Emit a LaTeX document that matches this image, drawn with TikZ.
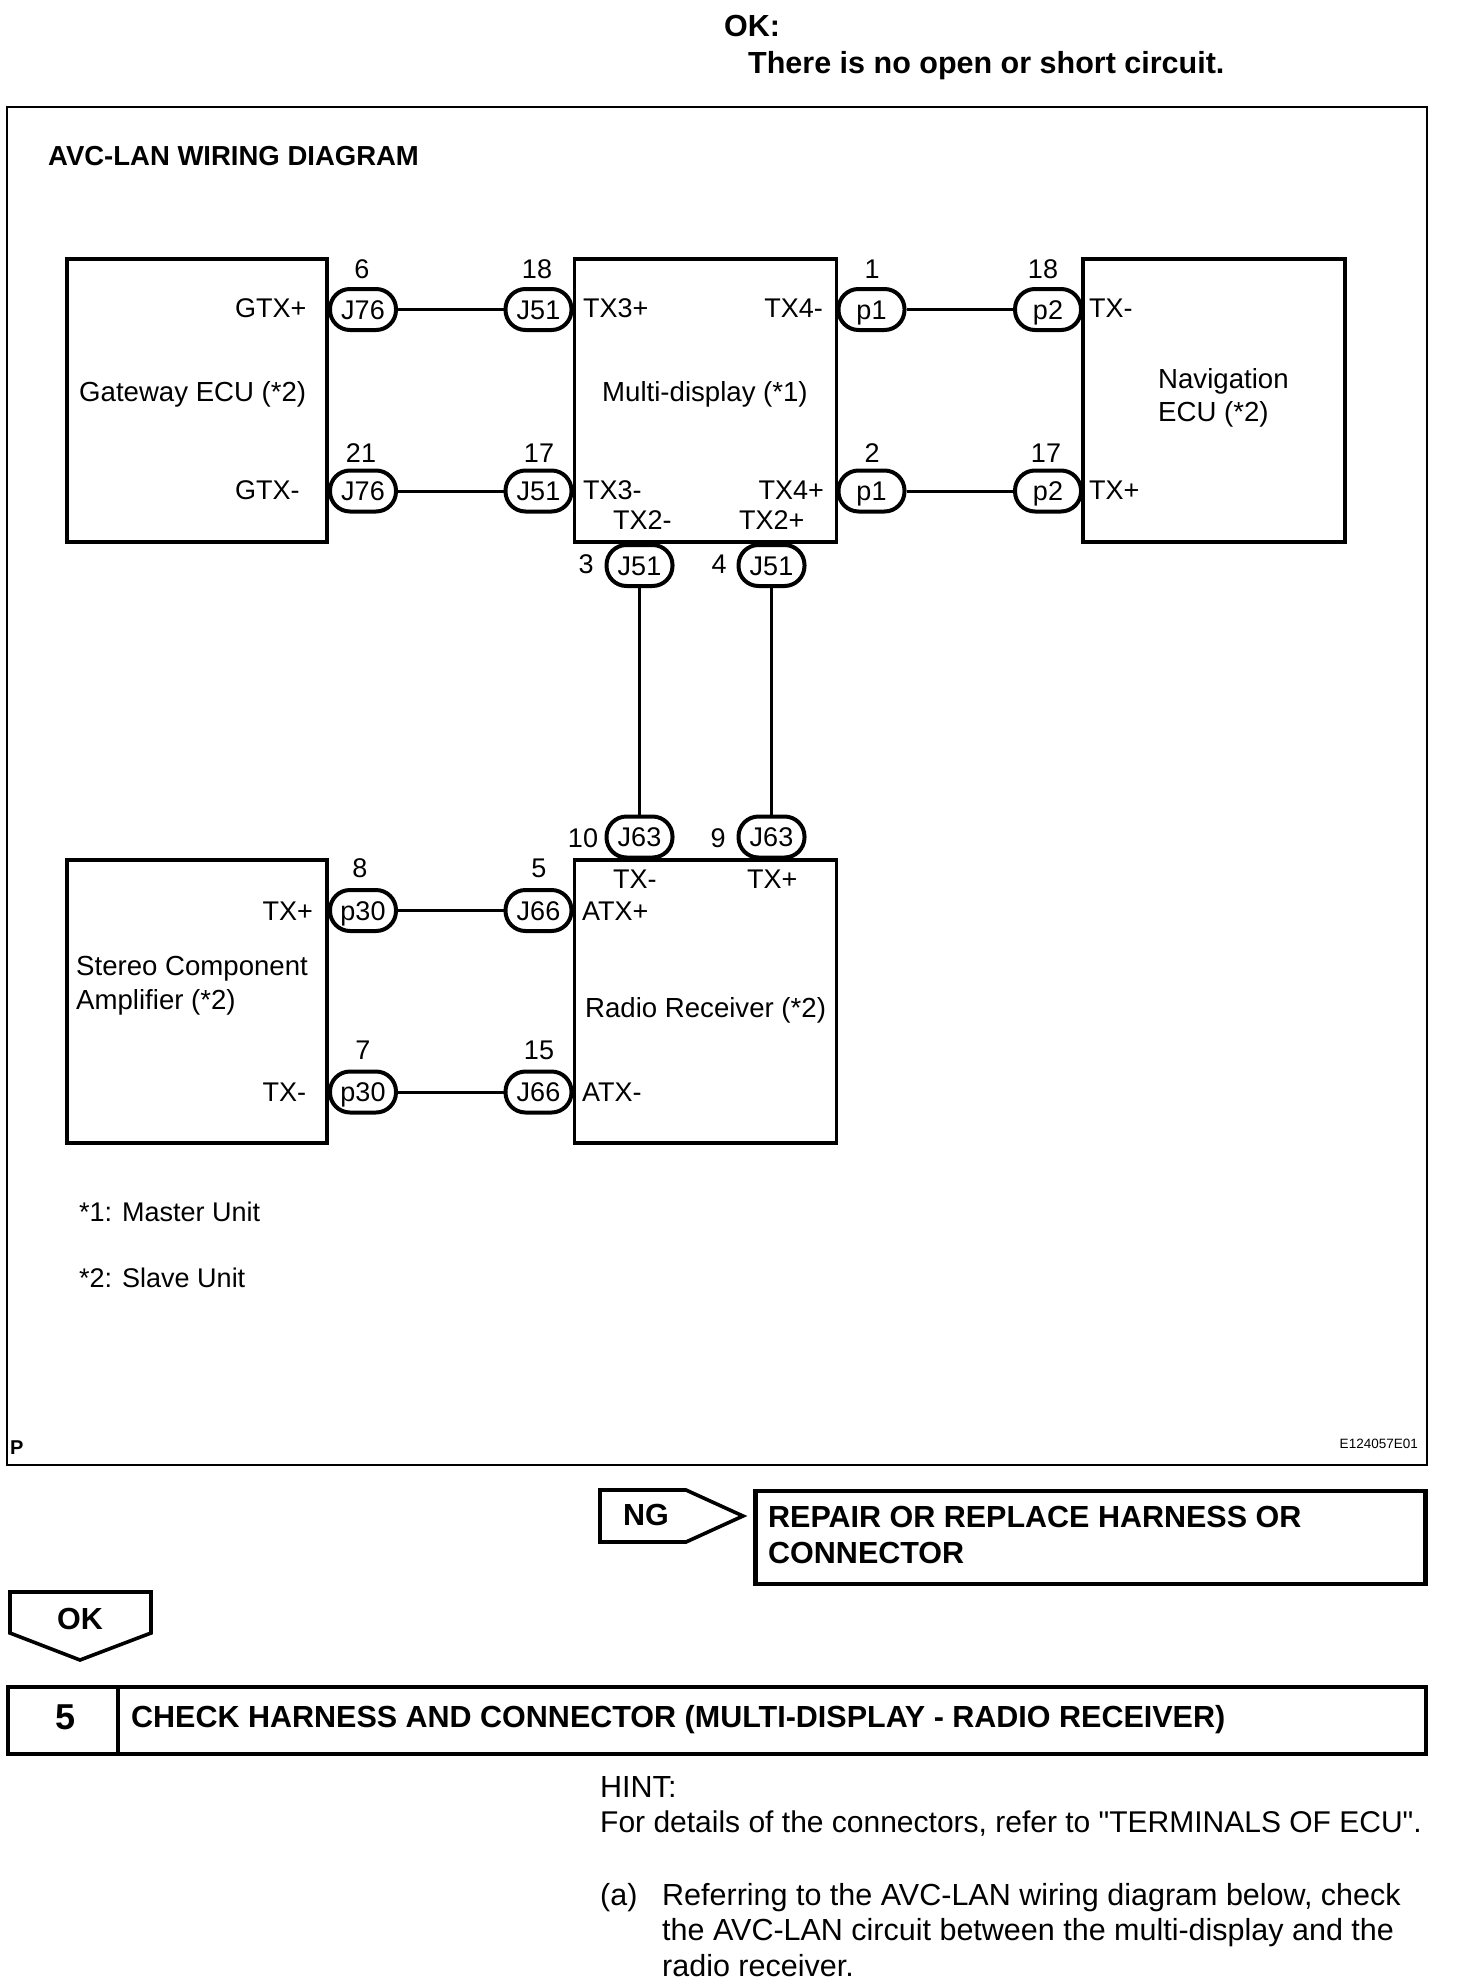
\documentclass[tikz,border=0pt]{standalone}
\usepackage{fontspec}
\setmainfont{Liberation Sans}
\newfontfamily\quotefont{Liberation Sans}
\usetikzlibrary{calc,positioning}
\tikzset{
unitbox/.style={draw,line width=3.6pt,rectangle,inner sep=0pt,minimum width=262pt,minimum height=283pt},
pin/.style={draw,fill=white,line width=4pt,rectangle,rounded corners=20pt,minimum width=66pt,minimum height=41pt,inner sep=0pt,text height=19.5pt,text depth=0pt,font=\fontsize{27}{31}\selectfont},
lbl/.style={anchor=base west,inner sep=0pt,font=\fontsize{27}{31}\selectfont},
lblr/.style={anchor=base east,inner sep=0pt,font=\fontsize{27}{31}\selectfont},
unitname/.style={anchor=base west,inner sep=0pt,font=\fontsize{27.6}{31}\selectfont},
num/.style={anchor=base,inner sep=0pt,font=\fontsize{27}{31}\selectfont},
body/.style={anchor=base west,inner sep=0pt,font=\fontsize{30.5}{35}\selectfont},
head/.style={anchor=base west,inner sep=0pt,font=\fontsize{30.5}{35}\selectfont\bfseries},
wire/.style={line width=3pt},
flow/.style={line width=3.6pt,line join=miter},
}
\begin{document}
\begin{tikzpicture}[x=1pt,y=-1pt]
\useasboundingbox(0,0)rectangle(1456,1988);
\node[head](okhead)at(724,37){OK:};
\node[head](okline)at(748,73.5){There is no open or short circuit.};
\draw[line width=2pt](7,107)rectangle(1427,1465);
\node[lbl,font=\fontsize{27.5}{31}\selectfont\bfseries](title)at(48,166){AVC-LAN WIRING DIAGRAM};
% units
\node[unitbox,minimum width=260pt](gateway)at(196.7,400.5){};
\node[unitbox](multi)at(705.5,400.5){};
\node[unitbox](navi)at(1214,400.5){};
\node[unitbox,minimum width=260pt](amp)at(196.7,1001.5){};
\node[unitbox](radio)at(705.5,1001.5){};
\node[unitname](gwname)at(79,401.7){Gateway ECU (*2)};
\node[unitname](muname)at(602,401.7){Multi-display (*1)};
\node[unitname](naname)at(1158,388){Navigation};
\node[unitname](naname2)at(1158,421){ECU (*2)};
\node[unitname](ampname)at(76,975){Stereo Component};
\node[unitname](ampname2)at(76,1009){Amplifier (*2)};
\node[unitname](raname)at(585,1017){Radio Receiver (*2)};
% pins
\node[pin](gtxp)at(363,309.5){J76};
\node[pin](txthreep)at(538.5,309.5){J51};
\node[pin](txfourm)at(871.5,309.5){p1};
\node[pin](txm)at(1048,309.5){p2};
\node[pin](gtxm)at(363,491){J76};
\node[pin](txthreem)at(538.5,491){J51};
\node[pin](txfourp)at(871.5,491){p1};
\node[pin](txp)at(1048,491){p2};
\node[pin](txtwom)at(639.5,565.5){J51};
\node[pin](txtwop)at(771.5,565.5){J51};
\node[pin](rxm)at(639.5,837){J63};
\node[pin](rxp)at(771.5,837){J63};
\node[pin](ampp)at(363,910.5){p30};
\node[pin](atxp)at(538.5,910.5){J66};
\node[pin](ampm)at(363,1092){p30};
\node[pin](atxm)at(538.5,1092){J66};
\draw[wire](gtxp)--(txthreep);
\draw[wire](gtxm)--(txthreem);
\draw[wire](txfourm)--(txm);
\draw[wire](txfourp)--(txp);
\draw[wire](txtwom)--(rxm);
\draw[wire](txtwop)--(rxp);
\draw[wire](ampp)--(atxp);
\draw[wire](ampm)--(atxm);
% terminal numbers
\node[num](n6)at(362,278){6};
\node[num](n18)at(537,278){18};
\node[num](n1)at(872,278){1};
\node[num](n18b)at(1043,278){18};
\node[num](n21)at(361,462){21};
\node[num](n17)at(539,462){17};
\node[num](n2)at(872,462){2};
\node[num](n17b)at(1046,462){17};
\node[num](n3)at(586,573){3};
\node[num](n4)at(719,573){4};
\node[num](n10)at(583,847){10};
\node[num](n9)at(718,847){9};
\node[num](n8)at(360,877){8};
\node[num](n5)at(539,877){5};
\node[num](n7)at(363,1059){7};
\node[num](n15)at(539,1059){15};
% terminal names
\node[lbl](l1)at(235,317){GTX+};
\node[lbl](l2)at(235,499){GTX-};
\node[lbl](l3)at(583,317){TX3+};
\node[lbl](l4)at(583,499){TX3-};
\node[lblr](l5)at(823,317){TX4-};
\node[lblr](l6)at(824,499){TX4+};
\node[lbl](l7)at(1089,317){TX-};
\node[lbl](l8)at(1089,499){TX+};
\node[lbl](l9)at(613,529){TX2-};
\node[lbl](l10)at(739,529){TX2+};
\node[lbl](l11)at(613,888){TX-};
\node[lbl](l12)at(747,888){TX+};
\node[lbl](l13)at(262.5,920){TX+};
\node[lbl](l14)at(262.5,1101){TX-};
\node[lbl](l15)at(582,920){ATX+};
\node[lbl](l16)at(582,1101){ATX-};
\node[lbl](note1)at(79,1221){*1: Master Unit};
\node[lbl](note2)at(79,1287){*2: Slave Unit};
\node[anchor=base west,inner sep=0pt,font=\fontsize{20}{24}\selectfont\bfseries](pmark)at(10,1454){P};
\node[anchor=base east,inner sep=0pt,font=\fontsize{13.5}{15}\selectfont](code)at(1418,1448){E124057E01};
% result arrows
\draw[flow](600,1490)--(686,1490)--(743,1516)--(686,1542)--(600,1542)--cycle;
\node[head](ng)at(623,1525){NG};
\node[unitbox,line width=4.5pt,minimum width=670pt,minimum height=93pt](repair)at(1090.5,1537.5){};
\node[head](rep1)at(768,1527){REPAIR OR REPLACE HARNESS OR};
\node[head](rep2)at(768,1563){CONNECTOR};
\draw[flow](10,1592)--(151,1592)--(151,1633)--(80,1660)--(10,1633)--cycle;
\node[head](ok)at(57,1629){OK};
\node[unitbox,line width=4pt,minimum width=1418pt,minimum height=67pt](check)at(717,1720.5){};
\draw[line width=4pt](check.north west-|118,0)--(check.south west-|118,0);
\node[head,font=\fontsize{36}{40}\selectfont\bfseries](stepno)at(55,1729){5};
\node[head](stepname)at(131,1727){CHECK HARNESS AND CONNECTOR (MULTI-DISPLAY - RADIO RECEIVER)};
\node[body](hint)at(600,1797){HINT:};
\node[body,font=\fontsize{30}{35}\selectfont](hint2)at(600,1832){For details of the connectors, refer to {\quotefont"}TERMINALS OF ECU{\quotefont"}.};
\node[body](a)at(600,1905){(a)};
\node[body](a1)at(662,1905){Referring to the AVC-LAN wiring diagram below, check};
\node[body](a2)at(662,1940){the AVC-LAN circuit between the multi-display and the};
\node[body](a3)at(662,1976){radio receiver.};
\end{tikzpicture}
\end{document}
